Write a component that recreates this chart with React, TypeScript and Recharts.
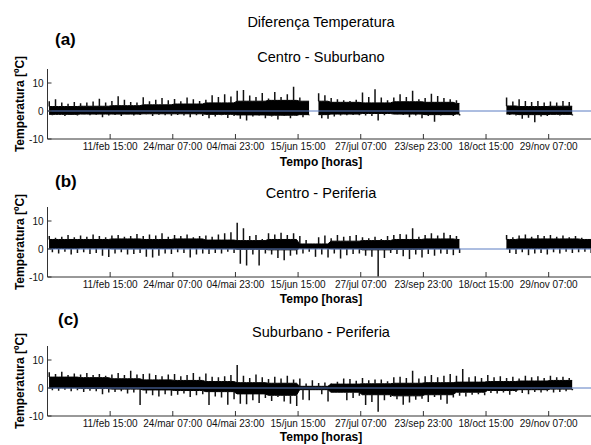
import React from 'react';
import { ComposedChart, Area, Bar, XAxis, YAxis, ReferenceLine } from 'recharts';

const FONT = '"Liberation Sans", Arial, sans-serif';
const AXIS = '#333333';

// eixo x em horas, marcas de 1000 em 1000 h
const tickHours = [1000, 2000, 3000, 4000, 5000, 6000, 7000, 8000];
const tickLabels = [
  '11/feb 15:00', '24/mar 07:00', '04/mai 23:00', '15/jun 15:00',
  '27/jul 07:00', '23/sep 23:00', '18/oct 15:00', '29/nov 07:00'
];
const yTicks = [-10, 0, 10];

// máximos / mínimos por janela de 100 h (k = 0..86)
const suburbanoHi = [
  3.5, 4.2, 3.0, 2.6, 3.2, 2.8, 3.0, 3.4, 4.4, 3.0,
  3.6, 5.3, 4.0, 3.2, 3.0, 4.9, 3.5, 4.0, 4.6, 3.8,
  4.3, 3.5, 4.8, 4.2, 3.6, 4.0, 5.6, 5.0, 6.0, 5.2,
  7.2, 7.5, 5.5, 5.0, 6.4, 4.5, 6.8, 5.0, 6.0, 8.7,
  4.8, 3.0, null, 6.3, 5.6, 4.6, 4.2, 3.8, 3.6, 4.0,
  6.6, 5.0, 7.8, 4.8, 3.8, 4.8, 6.0, 5.0, 7.2, 4.2,
  4.6, 6.2, 5.4, 4.6, 4.2, 3.8, null, null, null, null,
  null, null, null, 4.8, 3.4, 4.2, 3.6, 3.2, 3.6, 3.0,
  3.4, 3.0, 3.6, 3.2, null, null, null
];
const suburbanoLo = [
  -1.5, -1.2, -1.8, -1.4, -1.6, -1.2, -1.5, -1.3, -2.2, -1.6,
  -1.4, -1.8, -1.2, -1.6, -1.4, -1.2, -1.8, -1.3, -1.5, -1.7,
  -1.4, -1.6, -2.2, -1.5, -1.8, -2.6, -2.0, -1.5, -2.5, -1.8,
  -2.8, -3.4, -2.0, -1.6, -2.6, -2.0, -3.0, -1.8, -2.6, -1.8,
  -2.2, -1.5, null, -2.6, -2.8, -2.0, -1.6, -1.5, -1.4, -1.5,
  -1.6, -1.8, -3.4, -1.5, -1.0, -1.2, -1.4, -2.2, -1.6, -2.6,
  -1.8, -3.8, -1.6, -1.4, -1.8, -1.6, null, null, null, null,
  null, null, null, -1.4, -1.6, -2.8, -2.4, -4.0, -2.0, -1.8,
  -1.4, -1.6, -1.2, -1.6, null, null, null
];
// núcleo (faixa densa) por bloco de 500 h
const suburbanoCoreLo = [-1.2, -1.1, -1.1, -1.0, -1.0, -1.2, -1.4, -1.5, -1.3, -1.1, -0.9, -1.1, -1.3, -1.1, -1.1, -1.3, -1.2, -1.2];
const suburbanoCoreHi = [1.6, 1.7, 1.9, 2.2, 2.5, 2.9, 3.5, 3.8, 3.5, 3.1, 2.9, 3.3, 3.1, 2.7, 1.8, 1.6, 1.7, 1.6];

const periferiaHi = [
  4.6, 4.0, 4.4, 5.0, 4.2, 4.8, 4.4, 5.2, 4.6, 4.2,
  4.8, 5.0, 4.4, 4.6, 5.4, 4.6, 5.2, 4.8, 5.6, 4.4,
  5.0, 4.6, 5.2, 4.2, 4.6, 4.8, 4.4, 5.2, 5.6, 6.0,
  9.4, 7.4, 4.6, 5.0, 3.6, 5.6, 5.2, 5.8, 5.0, 5.6,
  4.6, 3.2, 1.2, 4.2, 4.8, 3.8, 5.0, 4.4, 4.6, 5.0,
  4.2, 3.8, 4.4, 3.6, 4.6, 5.0, 5.4, 5.2, 7.4, 4.4,
  5.0, 5.6, 4.8, 5.8, 5.0, 4.6, null, null, null, null,
  null, null, null, 5.0, 4.2, 4.8, 5.2, 4.4, 5.0, 4.6,
  5.0, 4.4, 4.8, 4.2, 4.6, 4.0, 3.4
];
const periferiaLo = [
  -1.2, -1.6, -1.0, -2.0, -1.4, -1.2, -1.8, -1.4, -2.4, -2.9,
  -1.6, -1.2, -2.0, -1.8, -1.4, -2.8, -3.0, -2.4, -1.6, -1.8,
  -1.2, -1.4, -3.0, -2.0, -1.6, -1.8, -1.4, -1.6, -1.0, -1.4,
  -5.3, -5.9, -2.0, -5.9, -1.6, -2.0, -3.2, -4.0, -2.4, -2.0,
  -1.6, -1.0, -2.8, -2.0, -3.0, -1.6, -3.4, -2.2, -1.8, -1.6,
  -2.4, -2.8, -9.8, -3.2, -1.4, -1.8, -2.6, -3.6, -2.0, -3.0,
  -1.8, -2.4, -1.6, -1.8, -2.2, -1.4, null, null, null, null,
  null, null, null, -1.4, -1.8, -1.2, -2.2, -1.6, -1.4, -2.0,
  -1.2, -1.6, -1.0, -1.4, -1.2, -1.0, -1.4
];
const periferiaCoreLo = [0.2, 0.3, 0.1, 0.2, 0.3, 0.1, -0.1, -0.3, 0.3, 0.1, -0.3, -0.1, 0.1, 0.1, 0.1, 0.2, 0.3, 0.3];
const periferiaCoreHi = [3.4, 3.4, 3.6, 3.4, 3.6, 3.2, 3.0, 3.4, 1.8, 2.8, 3.0, 3.4, 3.6, 3.4, 3.4, 3.6, 3.6, 3.4];

const subPerHi = [
  5.6, 5.0, 5.8, 4.6, 5.2, 4.8, 5.4, 4.6, 5.0, 4.4,
  4.8, 5.4, 4.6, 6.2, 4.8, 5.0, 5.2, 4.6, 4.2, 4.8,
  5.0, 4.2, 4.6, 5.4, 4.0, 5.2, 4.0, 3.8, 4.2, 4.6,
  8.2, 4.4, 3.6, 4.8, 3.8, 3.2, 4.0, 3.4, 4.4, 3.0,
  3.4, 1.6, 2.8, 1.8, 2.0, 1.6, 2.2, 3.4, 3.2, 2.6,
  3.6, 2.8, 3.0, 3.0, 2.4, 3.8, 4.0, 3.6, 6.2, 3.4,
  4.2, 4.6, 3.8, 4.4, 5.0, 4.4, 6.8, 3.8, 4.2, 3.6,
  4.6, 3.8, 4.2, 3.6, 4.0, 3.4, 4.4, 3.8, 4.2, 3.6,
  4.4, 3.8, 4.0, 3.6, null, null, null
];
const subPerLo = [
  -0.8, -1.0, -0.6, -1.2, -0.8, -1.4, -1.0, -1.2, -2.2, -1.6,
  -1.4, -1.2, -2.0, -1.6, -6.1, -2.0, -2.6, -3.0, -2.2, -2.8,
  -2.4, -2.0, -3.2, -2.6, -2.2, -6.1, -3.0, -3.4, -6.0, -4.0,
  -5.6, -5.8, -4.4, -5.4, -3.6, -4.6, -3.2, -4.8, -5.6, -6.4,
  -4.2, -4.4, -0.2, -2.2, -4.8, -1.0, -1.6, -4.4, -3.6, -2.8,
  -6.1, -5.0, -8.5, -4.4, -3.2, -4.0, -6.0, -5.2, -4.2, -3.8,
  -5.0, -3.2, -4.2, -5.6, -3.4, -2.8, -3.0, -2.4, -2.2, -2.6,
  -1.8, -2.0, -1.6, -2.4, -1.4, -1.8, -2.2, -1.4, -1.6, -1.2,
  -1.6, -1.4, -1.2, -0.8, null, null, null
];
const subPerCoreLo = [0.0, -0.2, -0.4, -0.7, -0.9, -1.3, -2.1, -2.6, -0.6, -1.5, -2.4, -2.8, -2.4, -1.5, -0.9, -0.6, -0.4, -0.4];
const subPerCoreHi = [3.9, 3.7, 3.3, 2.9, 2.7, 2.3, 1.9, 1.7, 0.6, 1.4, 1.5, 1.7, 1.9, 2.1, 2.3, 2.5, 2.7, 2.5];

// tabela única: cada janela gera um pico para cima e um para baixo, mais a faixa central
const buildRows = (hi: (number | null)[], lo: (number | null)[], coreLo: number[], coreHi: number[]) => {
  const rows: { t: number; r: number[] | null; band: number[] | null }[] = [];
  hi.forEach((h, k) => {
    const j = Math.floor(k / 5);
    const l = lo[k];
    const band = h == null ? null : [coreLo[j], coreHi[j]];
    rows.push({ t: k * 100 + 25, r: h == null ? null : [coreHi[j], Math.max(h, coreHi[j])], band });
    rows.push({ t: k * 100 + 75, r: l == null ? null : [Math.min(l, coreLo[j]), coreLo[j]], band });
  });
  return rows;
};

const BottomTick = (props: any) => {
  const { x, y, payload } = props;
  const i = tickHours.indexOf(payload.value);
  return (
    <g>
      <line x1={x} x2={x} y1={y} y2={y - 5} stroke={AXIS} />
      <text x={x} y={y + 11.4} textAnchor="middle" fontSize={10} fill="#111" fontFamily={FONT}>
        {tickLabels[i]}
      </text>
    </g>
  );
};

const TopTick = (props: any) => {
  const { x, y } = props;
  return <line x1={x} x2={x} y1={y} y2={y + 5} stroke={AXIS} />;
};

const LeftTick = (props: any) => {
  const { x, y, payload } = props;
  return (
    <g>
      <line x1={x} x2={x + 4} y1={y} y2={y} stroke={AXIS} />
      <text x={x - 4} y={y} dy="0.35em" textAnchor="end" fontSize={10} fill="#111" fontFamily={FONT}>
        {payload.value}
      </text>
    </g>
  );
};

const Panel: React.FC<{
  hi: (number | null)[];
  lo: (number | null)[];
  coreLo: number[];
  coreHi: number[];
  plotTop: number;
}> = ({ hi, lo, coreLo, coreHi, plotTop }) => {
  const rows = buildRows(hi, lo, coreLo, coreHi);
  return (
    <div style={{ position: 'absolute', left: 0, top: plotTop - 10 }}>
      <ComposedChart width={610} height={100} data={rows} margin={{ top: 10, right: 13.7, bottom: 0, left: 0 }}>
        <XAxis
          xAxisId="b"
          dataKey="t"
          type="number"
          domain={[0, 8760]}
          allowDataOverflow
          ticks={tickHours}
          interval={0}
          height={20}
          tickSize={0}
          tickMargin={0}
          tickLine={false}
          axisLine={{ stroke: AXIS }}
          tick={<BottomTick />}
        />
        <XAxis
          xAxisId="t"
          orientation="top"
          dataKey="t"
          type="number"
          domain={[0, 8760]}
          allowDataOverflow
          ticks={tickHours}
          interval={0}
          height={0}
          tickSize={0}
          tickMargin={0}
          tickLine={false}
          axisLine={{ stroke: AXIS }}
          tick={<TopTick />}
        />
        <YAxis
          type="number"
          domain={[-10, 15]}
          allowDataOverflow
          ticks={yTicks}
          interval={0}
          width={47.5}
          tickSize={0}
          tickMargin={0}
          tickLine={false}
          axisLine={{ stroke: AXIS }}
          tick={<LeftTick />}
        />
        <Area
          xAxisId="b"
          dataKey="band"
          type="linear"
          stroke="#000"
          strokeWidth={1}
          fill="#000"
          fillOpacity={1}
          connectNulls={false}
          isAnimationActive={false}
          activeDot={false}
        />
        <Bar xAxisId="b" dataKey="r" barSize={1.5} fill="#111" isAnimationActive={false} />
        <ReferenceLine xAxisId="b" y={0} stroke="#5a7cc2" strokeWidth={1} />
      </ComposedChart>
    </div>
  );
};

const Label: React.FC<{ x: number; y: number; size: number; bold?: boolean; rotate?: boolean; left?: boolean; children: React.ReactNode }> = ({
  x, y, size, bold, rotate, left, children
}) => (
  <div
    style={{
      position: 'absolute',
      left: x,
      top: y,
      transform: `translate(${left ? '0' : '-50%'}, -50%)${rotate ? ' rotate(-90deg)' : ''}`,
      fontSize: size,
      fontWeight: bold ? 'bold' : 'normal',
      lineHeight: 1,
      whiteSpace: 'nowrap',
      color: '#000',
      fontFamily: FONT
    }}
  >
    {children}
  </div>
);

export default function App() {
  return (
    <div style={{ position: 'absolute', left: 0, top: 0, width: 591, height: 445, overflow: 'hidden', background: '#fff' }}>
      <Label x={321} y={21.5} size={14.5}>Diferença Temperatura</Label>

      <Label x={55} y={39} size={17} bold left>(a)</Label>
      <Label x={321} y={56.5} size={14.5}>Centro - Suburbano</Label>
      <Panel hi={suburbanoHi} lo={suburbanoLo} coreLo={suburbanoCoreLo} coreHi={suburbanoCoreHi} plotTop={69.3} />
      <Label x={19.5} y={104.3} size={12} bold rotate>Temperatura [ºC]</Label>
      <Label x={321} y={162} size={12} bold>Tempo [horas]</Label>

      <Label x={55} y={180.5} size={17} bold left>(b)</Label>
      <Label x={321} y={193.3} size={14.5}>Centro - Periferia</Label>
      <Panel hi={periferiaHi} lo={periferiaLo} coreLo={periferiaCoreLo} coreHi={periferiaCoreHi} plotTop={207} />
      <Label x={19.5} y={242} size={12} bold rotate>Temperatura [ºC]</Label>
      <Label x={321} y={298.5} size={12} bold>Tempo [horas]</Label>

      <Label x={58} y={319} size={17} bold left>(c)</Label>
      <Label x={321} y={331.7} size={14.5}>Suburbano - Periferia</Label>
      <Panel hi={subPerHi} lo={subPerLo} coreLo={subPerCoreLo} coreHi={subPerCoreHi} plotTop={345.8} />
      <Label x={19.5} y={380.8} size={12} bold rotate>Temperatura [ºC]</Label>
      <Label x={321} y={436.5} size={12} bold>Tempo [horas]</Label>
    </div>
  );
}
